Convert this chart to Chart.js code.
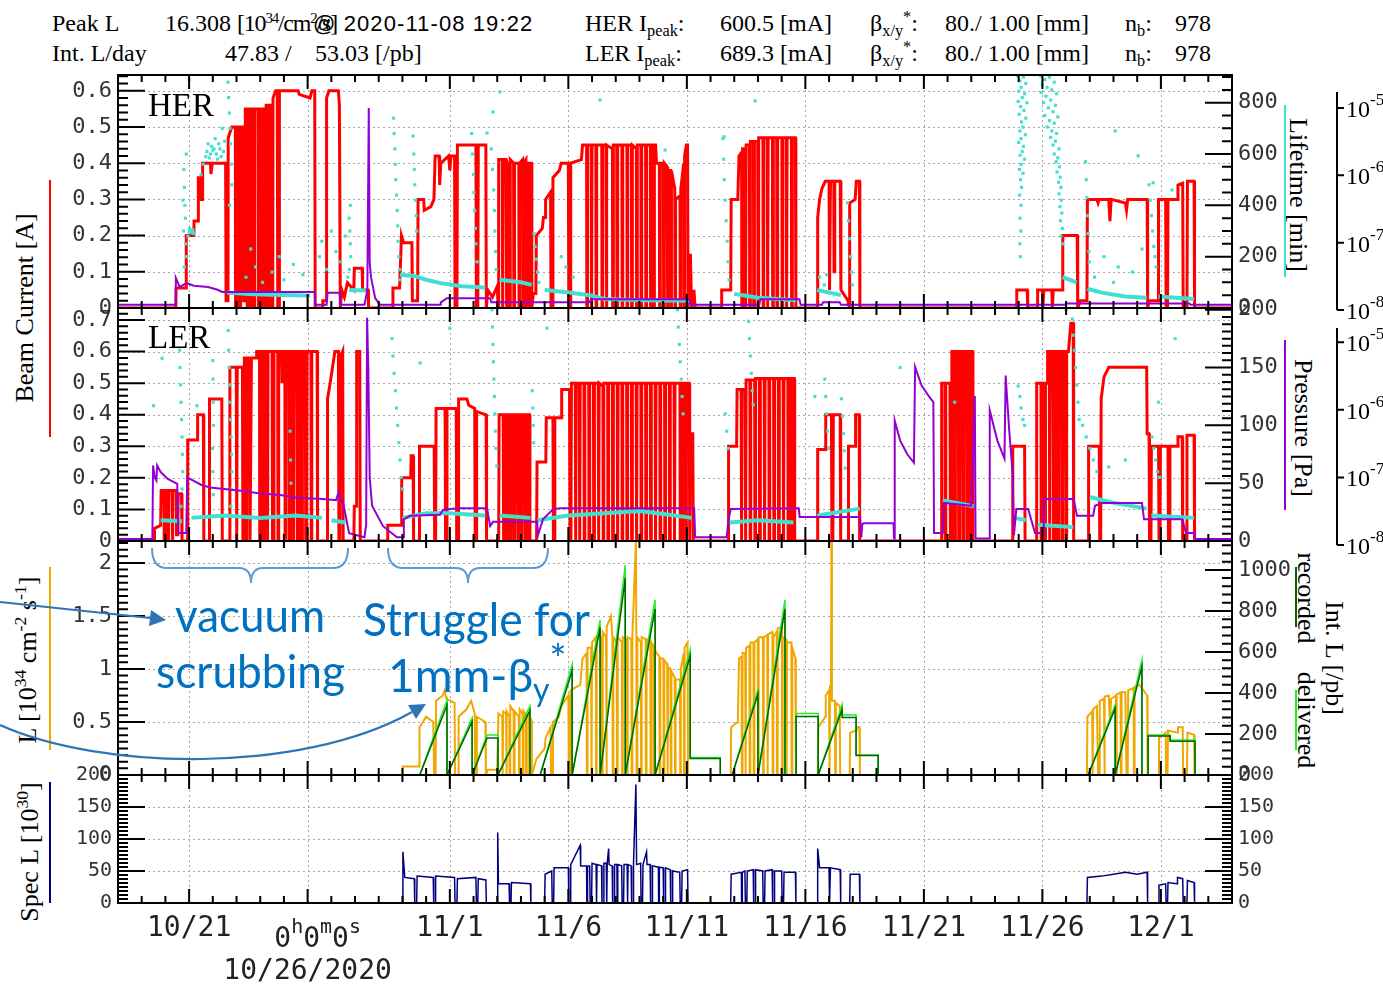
<!DOCTYPE html>
<html><head><meta charset="utf-8">
<script src="https://cdn.jsdelivr.net/npm/chart.js@4/dist/chart.umd.min.js"></script>
<style>
html,body{margin:0;padding:0;background:#fff;}
#wrap{position:relative;width:1383px;height:987px;overflow:hidden;background:#fff;}
canvas{position:absolute;left:0;}
.t{position:absolute;font-family:'Liberation Serif','DejaVu Serif',serif;font-size:24px;line-height:1;white-space:nowrap;color:#000;}
.sup{font-size:0.68em;position:relative;top:-0.55em;}
.sub{font-size:0.68em;position:relative;top:0.3em;}
.rot{position:absolute;font-family:'Liberation Serif',serif;font-size:26px;line-height:1;white-space:nowrap;color:#000;}
.bar{position:absolute;width:2px;}
</style></head><body><div id="wrap">
<div class="t" style="left:52px;top:11px">Peak L</div>
<div class="t" style="left:165px;top:11px">16.308 <span style="letter-spacing:-1.2px">[10<span class="sup" style="font-size:0.62em">34</span>/cm<span class="sup" style="font-size:0.62em">2</span>/s]</span></div>
<div class="t" style="left:313px;top:13px;font-family:'Liberation Sans',sans-serif;font-size:22px;letter-spacing:1.1px">@ 2020-11-08 19:22</div>
<div class="t" style="left:585px;top:11px">HER I<span class="sub">peak</span>:</div>
<div class="t" style="left:720px;top:11px">600.5 [mA]</div>
<div class="t" style="left:870px;top:11px">β<span class="sub">x/y</span><span class="sup">*</span>:</div>
<div class="t" style="left:945px;top:11px">80./&nbsp;1.00 [mm]</div>
<div class="t" style="left:1125px;top:11px">n<span class="sub">b</span>:</div>
<div class="t" style="left:1175px;top:11px">978</div>
<div class="t" style="left:52px;top:41px">Int. L/day</div>
<div class="t" style="left:225px;top:41px">47.83 /</div>
<div class="t" style="left:315px;top:41px">53.03 [/pb]</div>
<div class="t" style="left:585px;top:41px">LER I<span class="sub">peak</span>:</div>
<div class="t" style="left:720px;top:41px">689.3 [mA]</div>
<div class="t" style="left:870px;top:41px">β<span class="sub">x/y</span><span class="sup">*</span>:</div>
<div class="t" style="left:945px;top:41px">80./&nbsp;1.00 [mm]</div>
<div class="t" style="left:1125px;top:41px">n<span class="sub">b</span>:</div>
<div class="t" style="left:1175px;top:41px">978</div>

<div class="rot" style="left:25px;top:308px;transform:translate(-50%,-50%) rotate(-90deg)">Beam Current [A]</div>
<div class="rot" style="left:28px;top:660px;transform:translate(-50%,-50%) rotate(-90deg)">L [10<span class="sup">34</span> cm<span class="sup">-2</span> s<span class="sup">-1</span>]</div>
<div class="rot" style="left:30px;top:852px;transform:translate(-50%,-50%) rotate(-90deg)">Spec L [10<span class="sup">30</span>]</div>
<div class="rot" style="left:1298px;top:195px;transform:translate(-50%,-50%) rotate(90deg)">Lifetime [min]</div>
<div class="rot" style="left:1303px;top:428px;transform:translate(-50%,-50%) rotate(90deg)">Pressure [Pa]</div>
<div class="rot" style="left:1334px;top:658px;transform:translate(-50%,-50%) rotate(90deg)">Int. L [/pb]</div>
<div class="rot" style="left:1306px;top:598px;transform:translate(-50%,-50%) rotate(90deg)">recorded</div>
<div class="rot" style="left:1306px;top:720px;transform:translate(-50%,-50%) rotate(90deg)">delivered</div>
<div class="bar" style="left:49px;top:180px;height:257px;background:#FF0000"></div>
<div class="bar" style="left:49px;top:567px;height:183px;background:#F0A800"></div>
<div class="bar" style="left:49px;top:782px;height:121px;background:#000080"></div>
<div class="bar" style="left:1284px;top:105px;height:172px;background:#40E0D0"></div>
<div class="bar" style="left:1284px;top:340px;height:170px;background:#9400D3"></div>
<div class="bar" style="left:1295px;top:567px;height:60px;background:#006400"></div>
<div class="bar" style="left:1295px;top:690px;height:60px;background:#22EE22"></div>
</div>
<script>
// ---------- axes / ticks ----------
const majorDays = [-5, 0, 6, 11, 16, 21, 26, 31, 36];   // days relative to 10/26 0:00
const dayLabels = ['10/21', '0h0m0s', '11/1', '11/6', '11/11', '11/16', '11/21', '11/26', '12/1'];
const dateLine2 = '10/26/2020';
const herTicks = [0, 0.1, 0.2, 0.3, 0.4, 0.5, 0.6];
const lifeTicks = [0, 200, 400, 600, 800];
const lerTicks = [0, 0.1, 0.2, 0.3, 0.4, 0.5, 0.6, 0.7];
const lerLifeTicks = [0, 50, 100, 150, 200];
const lumTicks = [0, 0.5, 1, 1.5, 2];
const intTicks = [0, 200, 400, 600, 800, 1000];
const specTicks = [0, 50, 100, 150, 200];
const vacDecades = [-8, -7, -6, -5];

// ---------- data: [day, value] ----------
const herCurrent = [[-8,0],[-5.56,0],[-5.55,0.055],[-5.13,0.055],[-5.12,0.2],[-4.8,0.2],[-4.79,0.24],[-4.62,0.24],[-4.61,0.36],[-4.52,0.36],[-4.5,0.3],[-4.44,0.3],[-4.43,0.4],[-4.1,0.4],[-4.08,0.37],[-4.02,0.4],[-3.46,0.4],[-3.44,0.02],[-3.36,0.02],[-3.35,0.47],[-3.2,0.5],[-3.05,0.5],[-3.04,0],[-3.02,0],[-3.01,0.5],[-2.9,0.5],[-2.88,0],[-2.84,0],[-2.83,0.5],[-2.72,0.5],[-2.7,0.02],[-2.64,0.02],
[-2.63,0.55],[-2.56,0.55],[-2.55,0],[-2.53,0],[-2.52,0.55],[-2.45,0.55],[-2.43,0],[-2.37,0],[-2.36,0.55],[-2.28,0.55],[-2.27,0],[-2.25,0],[-2.24,0.55],[-2.1,0.55],[-2.08,0],[-2.02,0],[-2.01,0.55],[-1.93,0.55],[-1.92,0],[-1.9,0],[-1.89,0.55],[-1.84,0.55],[-1.82,0],[-1.76,0],[-1.75,0.56],[-1.66,0.56],[-1.65,0],[-1.63,0],[-1.62,0.56],[-1.55,0.56],[-1.53,0],[-1.47,0],[-1.46,0.58],[-1.35,0.6],[-1.28,0.6],[-1.26,0],[-1.2,0],[-1.19,0.6],
[-0.4,0.6],[-0.35,0.59],[0.1,0.58],[0.18,0.6],[0.3,0.6],[0.32,0],[0.62,0],[0.64,0.02],[0.78,0.02],[0.8,0.58],[0.9,0.6],[1.3,0.6],[1.34,0.56],[1.38,0],[1.44,0.05],[1.55,0.03],[1.68,0.07],[1.95,0.05],[1.97,0.11],[2.3,0.11],[2.32,0.05],[2.55,0.05],[2.57,0],[3.59,0],[3.6,0.055],[3.88,0.055],[3.96,0.2],[4.05,0.18],[4.4,0.18],[4.42,0.02],[4.64,0.02],[4.66,0.3],[4.9,0.3],[4.92,0.27],[5.2,0.28],[5.33,0.3],[5.38,0.42],[5.55,0.42],[5.57,0.34],[5.62,0.4],[5.95,0.42],[6,0.38],[6.05,0.42],[6.2,0.42],[6.22,0],[6.3,0],[6.32,0.45],[7.1,0.45],[7.12,0],[7.18,0],[7.2,0.45],[7.52,0.45],[7.54,0],[7.6,0.05],[7.8,0.03],[8,0.06],[8.04,0],
[8.06,0.41],[8.21,0.41],[8.22,0],[8.24,0],[8.25,0.41],[8.37,0.41],[8.38,0],[8.4,0],[8.41,0.4],[8.51,0.4],[8.52,0],[8.54,0],[8.55,0.41],[8.69,0.4],[8.7,0],[8.72,0],[8.73,0.4],[8.91,0.4],[8.92,0],[8.94,0],[8.95,0.4],[9.07,0.41],[9.08,0],[9.1,0],[9.11,0.4],[9.21,0.41],[9.22,0],[9.24,0],[9.25,0.4],[9.34,0.4],[9.35,0],[9.37,0],[9.38,0.4],[9.44,0.4],[9.46,0],
[9.52,0.04],[9.63,0.04],[9.65,0.2],[9.9,0.22],[9.95,0.25],[10.02,0.25],[10.04,0.3],[10.25,0.32],[10.27,0],[10.33,0],[10.35,0.36],[10.62,0.38],[10.7,0.4],[11,0.4],[11.02,0],[11.08,0],[11.1,0.4],[11.55,0.41],[11.6,0.45],
[11.77,0.45],[11.78,0],[11.8,0],[11.81,0.45],[11.96,0.45],[11.97,0],[11.99,0],[12.0,0.45],[12.16,0.45],[12.17,0],[12.19,0],[12.2,0.45],[12.41,0.45],[12.42,0],[12.44,0],[12.45,0.45],[12.59,0.45],[12.6,0],[12.62,0],[12.63,0.45],[12.86,0.44],[12.87,0],[12.89,0],[12.9,0.45],[13.04,0.45],[13.05,0],[13.07,0],[13.08,0.45],[13.26,0.45],[13.27,0],[13.29,0],[13.3,0.45],[13.47,0.45],[13.48,0],[13.5,0],[13.51,0.45],[13.66,0.45],[13.67,0],[13.69,0],[13.7,0.45],[13.87,0.44],[13.88,0],[13.9,0],[13.91,0.45],[14.06,0.45],[14.07,0],[14.09,0],[14.1,0.45],[14.26,0.45],[14.27,0],[14.29,0],[14.3,0.45],[14.46,0.45],[14.47,0],[14.49,0],[14.5,0.45],[14.59,0.45],[14.6,0],[14.62,0],[14.63,0.45],[14.68,0.45],
[14.72,0.4],[14.84,0.4],[14.85,0],[14.87,0],[14.88,0.4],[15.01,0.4],[15.02,0],[15.04,0],[15.05,0.4],[15.17,0.39],[15.18,0],[15.2,0],[15.21,0.38],[15.31,0.38],[15.32,0],[15.34,0],[15.35,0.38],[15.49,0.33],[15.5,0],[15.52,0],[15.53,0.3],[15.71,0.31],[15.72,0],[15.74,0],[15.75,0.33],[15.87,0.4],[15.88,0],[15.9,0],[15.91,0.42],[15.98,0.45],[16.03,0.45],[16.05,0],
[16.15,0.15],[16.2,0],[16.3,0.05],[16.35,0],[17.45,0],[17.47,0.05],[17.85,0.05],[17.87,0.3],[18.15,0.3],
[18.2,0.42],[18.31,0.43],[18.32,0],[18.34,0],[18.35,0.44],[18.46,0.44],[18.47,0],[18.49,0],[18.5,0.45],[18.64,0.45],[18.65,0],[18.67,0],[18.68,0.46],[18.81,0.46],[18.82,0],[18.84,0],[18.85,0.46],[18.99,0.46],[19.0,0],[19.02,0],[19.03,0.47],[19.21,0.47],[19.22,0],[19.24,0],[19.25,0.47],[19.39,0.47],[19.4,0],[19.42,0],[19.43,0.47],[19.61,0.47],[19.62,0],[19.64,0],[19.65,0.47],[19.79,0.47],[19.8,0],[19.82,0],[19.83,0.47],[20.01,0.47],[20.02,0],[20.04,0],[20.05,0.47],[20.19,0.47],[20.2,0],[20.22,0],[20.23,0.47],[20.41,0.47],[20.42,0],[20.44,0],[20.45,0.47],[20.58,0.47],[20.6,0],
[21.5,0],[21.52,0.25],[21.6,0.3],[21.7,0.33],[21.84,0.35],[22,0.35],[22.02,0.05],[22.06,0.35],[22.2,0.35],[22.21,0.1],[22.24,0.35],[22.47,0.35],[22.5,0.05],[22.8,0.02],[22.85,0],[22.87,0.29],[23.1,0.3],[23.15,0.35],[23.28,0.35],[23.3,0],[29.9,0],[29.92,0.05],[30.36,0.05],[30.38,0],[30.78,0],[30.8,0.05],[31,0.05],[31.02,0],[31.06,0.05],[31.4,0.05],[31.42,0],[31.46,0.05],[31.84,0.05],[31.86,0.2],[32.47,0.2],[32.49,0],[32.6,0.02],[32.88,0.02],[32.9,0.3],[33.3,0.3],[33.35,0.29],[33.4,0.3],[33.8,0.3],[33.85,0.24],[33.9,0.3],[34.5,0.29],[34.55,0.27],[34.6,0.3],[35.42,0.3],[35.44,0],[35.5,0.02],[35.88,0.02],[35.9,0.3],[36.2,0.3],[36.22,0],[36.28,0],[36.3,0.3],[36.68,0.3],[36.72,0.34],[36.92,0.345],[36.94,0],[37.1,0],[37.12,0.35],[37.4,0.35],[37.42,0],[39,0]];

const herVacuum = [[-8,1.2e-8],[-5.58,1.2e-8],[-5.56,3.0e-8],[-5.4,2.2e-8],[-5.1,2.5e-8],[-4.8,2.3e-8],[-4.2,2.2e-8],[-3.8,2.0e-8],[-3.6,1.85e-8],[-2.0,1.85e-8],[0.3,1.85e-8],[0.32,1.2e-8],[0.8,1.2e-8],[0.84,1.8e-8],[1.35,1.8e-8],[1.4,1.2e-8],[2.4,1.2e-8],[2.52,2.0e-8],[2.58,1.0e-5],[2.62,5.0e-8],[2.68,3.0e-8],[2.85,1.5e-8],[3.05,1.2e-8],[5.59,1.2e-8],[5.62,1.3e-8],[5.88,1.5e-8],[7.7,1.5e-8],[7.75,1.3e-8],[11.9,1.3e-8],[11.95,1.45e-8],[16.1,1.45e-8],[16.15,1.2e-8],[19.05,1.2e-8],[19.1,1.45e-8],[20.75,1.45e-8],[20.8,1.2e-8],[21.7,1.2e-8],[21.75,1.3e-8],[22.45,1.3e-8],[22.5,1.2e-8],[31.95,1.2e-8],[32.0,1.25e-8],[37.2,1.25e-8],[37.25,1.2e-8],[39,1.2e-8]];

const herLifeBand = [[-5.05,300],[-4.75,290],[-4.7,null],[-3.4,60],[-2.5,55],[-1.5,52],[-0.5,50],[0.1,48],[0.15,null],[1.75,70],[2.45,68],[2.5,null],[3.9,130],[4.5,125],[5.0,110],[5.6,97],[6.5,85],[7.5,80],[7.55,null],[8.1,110],[9.0,100],[9.45,90],[9.5,null],[10.0,70],[11.0,60],[11.9,50],[12.5,35],[14.0,30],[16.1,28],[16.15,null],[18.0,55],[19.0,40],[20.6,30],[20.65,null],[21.5,70],[22.5,50],[22.55,null],[31.85,120],[32.45,100],[32.5,null],[32.9,75],[33.5,60],[34.5,45],[35.4,40],[35.45,null],[35.9,45],[37.4,35]];

const herLifeDots = [[-5.22,540],[-5.2,470],[-5.18,400],[-5.16,350],[-5.24,300],[-5.14,250],[-5.1,200],[-5.2,160],[-5.12,600],[-5.26,420],[-5.0,890],[-5.05,280],[-4.98,310],[-4.92,295],[-4.85,305],[-4.5,520],[-4.4,560],[-4.3,590],[-4.25,610],[-4.2,640],[-4.15,585],[-4.1,600],[-4.05,630],[-4.0,615],[-3.95,620],[-3.9,660],[-3.85,600],[-3.8,580],[-3.75,640],[-3.7,620],[-3.65,590],[-3.6,700],[-3.55,610],[-3.5,650],[-3.36,880],[-3.33,820],[-3.3,760],[-3.28,700],[-3.25,640],[-3.22,560],[-3.2,480],[-3.3,400],[-2.6,120],[-2.2,160],[-1.9,100],[-1.5,140],[-1.0,110],[-0.6,170],[-0.2,130],[-2.4,230],[-1.2,200],[0.5,200],[0.6,260],[0.8,150],[1.0,300],[1.2,220],[1.4,180],[1.6,280],[1.75,350],[1.78,300],[1.8,250],[1.82,200],[1.76,150],[1.8,400],[1.7,120],[3.62,740],[3.65,680],[3.68,620],[3.7,560],[3.72,500],[3.75,440],[3.78,380],[3.8,320],[3.82,260],[3.85,200],[3.88,150],[3.9,110],[4.45,670],[4.48,600],[4.5,540],[4.52,480],[4.55,420],[4.58,360],[4.6,300],[6.92,680],[6.95,600],[7.0,520],[7.02,450],[7.05,380],[7.08,310],[7.1,250],[7.15,180],[7.75,620],[7.8,540],[7.85,460],[7.88,380],[7.9,300],[7.93,220],[7.96,150],[8.12,842],[7.57,682],[7.82,764],[12.34,811],[15.08,616],[17.57,667],[18.88,807],[34.07,690],[35.04,593],[35.67,488],[36.47,460],[9.55,290],[9.6,240],[9.65,190],[9.7,140],[9.75,100],[10.7,200],[10.9,160],[11.2,120],[17.52,660],[17.55,580],[17.58,500],[17.62,420],[17.66,340],[17.7,260],[17.74,180],[17.78,110],[21.6,120],[21.8,90],[21.9,130],[22.78,410],[22.82,340],[22.86,270],[22.9,200],[22.94,140],[22.98,90],
[29.95,905],[30.2,900],[30.05,885],[30.3,875],[30.1,860],[30.0,845],[30.25,835],[30.15,820],[29.98,805],[30.35,800],[30.08,785],[30.22,770],[30.02,755],[30.3,740],[30.12,725],[30.18,705],[30.05,690],[30.28,675],[30.1,660],[30.0,645],[30.2,630],[30.15,610],[30.06,595],[30.25,580],[30.1,560],[30.03,540],[30.18,525],[30.08,500],[30.12,470],[30.04,440],[30.1,400],[30.06,350],[30.09,300],[30.05,250],[30.07,200],
[30.92,905],[31.3,900],[31.1,890],[31.5,880],[31.0,870],[31.2,860],[31.4,850],[30.95,840],[31.6,835],[31.15,825],[31.35,810],[31.05,800],[31.55,790],[31.25,780],[31.45,765],[31.1,750],[31.65,745],[31.3,730],[31.5,720],[31.2,705],[31.4,690],[31.6,680],[31.35,665],[31.55,650],[31.45,635],[31.7,620],[31.5,600],[31.65,585],[31.58,570],[31.72,550],[31.62,530],[31.75,510],[31.68,490],[31.78,470],[31.7,445],[31.8,420],[31.74,395],[31.82,370],[31.76,340],[31.84,310],[31.78,280],[31.85,250],
[32.82,570],[32.85,500],[32.88,430],[32.9,360],[32.93,290],[32.96,220],[32.98,180],[35.5,480],[35.55,420],[35.6,360],[35.65,300],[35.7,240],[35.75,200],[35.8,160],[33.2,120],[33.6,200],[34.2,160],[34.8,140],[35.2,230],[34.0,100]];

const lerCurrent = [[-8,0],[-6.48,0],[-6.46,0.04],[-6.2,0.05],
[-6.18,0.16],[-6.06,0.16],[-6.05,0],[-6.03,0],[-6.02,0.16],[-5.95,0.16],[-5.93,0],[-5.88,0],[-5.86,0.16],[-5.72,0.16],[-5.71,0],[-5.69,0],[-5.68,0.16],[-5.55,0.16],[-5.53,0.02],[-5.48,0.02],[-5.46,0.15],[-5.32,0.15],[-5.3,0],
[-5.08,0],[-5.06,0.32],[-4.66,0.32],[-4.64,0.4],[-4.4,0.4],[-4.38,0],[-4.16,0],[-4.14,0.45],[-3.62,0.45],[-3.6,0],[-3.3,0],
[-3.28,0.55],[-3.01,0.55],[-3.0,0],[-2.98,0],[-2.97,0.55],[-2.75,0.55],[-2.73,0],[-2.69,0],[-2.67,0.58],[-2.59,0.58],[-2.58,0],[-2.56,0],[-2.55,0.58],[-2.45,0.58],[-2.43,0],[-2.39,0],[-2.37,0.58],[-2.17,0.58],[-2.15,0.6],[-2.03,0.6],[-2.02,0],[-2.0,0],[-1.99,0.6],[-1.9,0.6],[-1.88,0],[-1.84,0],[-1.82,0.6],[-1.71,0.6],[-1.7,0],[-1.68,0],[-1.67,0.6],[-1.5,0.6],[-1.48,0],[-1.44,0],[-1.42,0.6],[-1.26,0.6],[-1.25,0],[-1.23,0],[-1.22,0.6],[-1.1,0.6],[-1.08,0.5],[-1.02,0.6],[-0.96,0.6],[-0.95,0],[-0.93,0],[-0.92,0.6],[-0.8,0.6],[-0.78,0],[-0.74,0],[-0.72,0.6],[-0.61,0.6],[-0.6,0],[-0.58,0],[-0.57,0.6],[-0.45,0.6],[-0.43,0],[-0.39,0],[-0.37,0.6],[-0.26,0.6],[-0.25,0],[-0.23,0],[-0.22,0.6],[-0.1,0.6],[-0.08,0],[-0.04,0],[-0.02,0.6],[0.14,0.6],[0.15,0],[0.17,0],[0.18,0.6],[0.4,0.6],[0.42,0],
[0.82,0],[0.84,0.45],[0.95,0.5],[1.05,0.55],[1.15,0.6],[1.3,0.6],[1.32,0],[1.36,0],[1.38,0.58],[1.48,0.6],[1.5,0],[1.95,0],[1.97,0.11],[2.05,0.11],[2.07,0.6],[2.2,0.6],[2.22,0],[3.36,0],[3.38,0.05],[3.95,0.05],[3.97,0.2],[4.35,0.2],[4.37,0.27],[4.45,0.27],[4.47,0],[4.7,0],[4.72,0.3],[5.34,0.3],[5.36,0],[5.4,0],[5.42,0.42],[5.8,0.42],[5.82,0],[5.86,0],[5.88,0.42],[6.27,0.42],[6.29,0],[6.35,0],[6.37,0.45],[6.72,0.45],[6.8,0.43],[7.05,0.42],[7.07,0],[7.11,0],[7.13,0.41],[7.53,0.4],[7.55,0],[8.06,0],
[8.08,0.4],[8.25,0.4],[8.27,0],[8.29,0],[8.3,0.4],[8.41,0.4],[8.42,0],[8.44,0],[8.45,0.4],[8.55,0.4],[8.57,0],[8.59,0],[8.6,0.4],[8.71,0.4],[8.72,0],[8.74,0],[8.75,0.4],[8.85,0.4],[8.87,0],[8.89,0],[8.9,0.4],[9.01,0.4],[9.02,0],[9.04,0],[9.05,0.4],[9.15,0.4],[9.17,0],[9.19,0],[9.2,0.4],[9.29,0.4],[9.3,0],[9.32,0],[9.33,0.4],[9.36,0.4],[9.38,0],
[9.66,0],[9.68,0.25],[10.05,0.25],[10.07,0.39],[10.35,0.39],[10.37,0],[10.41,0],[10.43,0.39],[10.7,0.39],[10.72,0.48],[11.05,0.48],[11.07,0],[11.11,0],
[11.13,0.5],[11.29,0.5],[11.3,0],[11.32,0],[11.33,0.5],[11.46,0.5],[11.47,0],[11.49,0],[11.5,0.5],[11.66,0.5],[11.67,0],[11.69,0],[11.7,0.5],[11.86,0.5],[11.87,0],[11.89,0],[11.9,0.5],[12.06,0.5],[12.07,0],[12.09,0],[12.1,0.5],[12.26,0.5],[12.27,0],[12.29,0],[12.3,0.5],[12.46,0.49],[12.47,0],[12.49,0],[12.5,0.5],[12.66,0.5],[12.67,0],[12.69,0],[12.7,0.5],[12.86,0.5],[12.87,0],[12.89,0],[12.9,0.5],[13.06,0.5],[13.07,0],[13.09,0],[13.1,0.5],[13.26,0.5],[13.27,0],[13.29,0],[13.3,0.5],[13.46,0.5],[13.47,0],[13.49,0],[13.5,0.5],[13.66,0.5],[13.67,0],[13.69,0],[13.7,0.5],[13.86,0.5],[13.87,0],[13.89,0],[13.9,0.5],[14.06,0.5],[14.07,0],[14.09,0],[14.1,0.5],[14.26,0.5],[14.27,0],[14.29,0],[14.3,0.5],[14.46,0.5],[14.47,0],[14.49,0],[14.5,0.5],[14.66,0.5],[14.67,0],[14.69,0],[14.7,0.5],[14.86,0.5],[14.87,0],[14.89,0],[14.9,0.5],[15.06,0.5],[15.07,0],[15.09,0],[15.1,0.5],[15.26,0.5],[15.27,0],[15.29,0],[15.3,0.5],[15.46,0.5],[15.47,0],[15.49,0],[15.5,0.5],[15.71,0.5],[15.72,0],[15.8,0],[15.82,0.5],[15.94,0.5],[15.95,0],[15.97,0],[15.98,0.5],[16.1,0.5],[16.12,0],[16.15,0.34],[16.25,0.34],[16.27,0],[17.74,0],[17.76,0.3],[18.1,0.3],
[18.12,0.48],[18.29,0.48],[18.3,0],[18.32,0],[18.33,0.48],[18.46,0.48],[18.47,0],[18.49,0],[18.5,0.51],[18.66,0.51],[18.67,0],[18.69,0],[18.7,0.51],[18.86,0.51],[18.87,0],[18.89,0],[18.9,0.515],[19.06,0.515],[19.07,0],[19.09,0],[19.1,0.515],[19.26,0.515],[19.27,0],[19.29,0],[19.3,0.515],[19.46,0.515],[19.47,0],[19.49,0],[19.5,0.515],[19.66,0.515],[19.67,0],[19.69,0],[19.7,0.515],[19.86,0.515],[19.87,0],[19.89,0],[19.9,0.515],[20.06,0.515],[20.07,0],[20.09,0],[20.1,0.515],[20.26,0.515],[20.27,0],[20.29,0],[20.3,0.515],[20.41,0.515],[20.42,0],[20.44,0],[20.45,0.515],[20.53,0.515],[20.55,0],
[21.5,0],[21.52,0.29],[21.84,0.29],[21.86,0.4],[22.1,0.4],[22.12,0],[22.16,0],[22.18,0.4],[22.47,0.4],[22.49,0],[22.8,0],[22.82,0.3],[23.1,0.3],[23.12,0.4],[23.27,0.4],[23.29,0],[26.73,0],
[26.75,0.5],[26.89,0.5],[26.9,0],[26.92,0],[26.93,0.5],[27.1,0.5],[27.12,0],[27.16,0],[27.18,0.6],[27.29,0.6],[27.3,0],[27.32,0],[27.33,0.6],[27.45,0.6],[27.47,0],[27.51,0],[27.53,0.6],[27.64,0.6],[27.65,0],[27.67,0],[27.68,0.6],[27.8,0.6],[27.82,0],[27.86,0],[27.88,0.6],[27.94,0.6],[27.95,0],[27.97,0],[27.98,0.6],[28.05,0.6],[28.07,0],
[29.73,0],[29.75,0.3],[30.25,0.3],[30.27,0],[30.74,0],
[30.76,0.5],[30.94,0.5],[30.95,0],[30.97,0],[30.98,0.5],[31.09,0.5],[31.1,0],[31.12,0],[31.13,0.5],[31.2,0.5],[31.22,0.6],[31.29,0.6],[31.3,0],[31.32,0],[31.33,0.6],[31.45,0.6],[31.47,0],[31.51,0],[31.53,0.6],[31.64,0.6],[31.65,0],[31.67,0],[31.68,0.6],[31.8,0.6],[31.82,0],[31.86,0],[31.88,0.6],[31.99,0.6],[32.0,0],[32.02,0],[32.03,0.6],[32.1,0.6],[32.2,0.69],[32.3,0.69],[32.32,0],
[32.93,0],[32.95,0.3],[33.4,0.3],[33.42,0],[33.46,0],[33.48,0.45],[33.6,0.52],[33.8,0.55],[35.4,0.55],[35.42,0.34],[35.5,0.34],[35.52,0],[35.58,0],[35.6,0.3],[35.9,0.3],[35.92,0],[35.96,0],[35.98,0.3],[36.3,0.3],[36.32,0],[36.36,0],[36.38,0.3],[36.7,0.3],[36.72,0.33],[36.9,0.33],[36.92,0],[37.08,0],[37.1,0.335],[37.4,0.335],[37.42,0],[39,0]];

const lerVacuum = [[-8,1.23e-8],[-6.55,1.23e-8],[-6.52,1.5e-7],[-6.45,1.0e-7],[-6.38,9.0e-8],[-6.35,1.5e-7],[-6.2,1.2e-7],[-5.9,9.5e-8],[-5.5,8.0e-8],[-5.45,1.5e-8],[-5.12,1.5e-8],[-5.08,1.0e-7],[-4.5,7.8e-8],[-4.12,7.1e-8],[-2.72,6.3e-8],[-2.0,5.8e-8],[-1.16,5.5e-8],[-0.45,5.0e-8],[0.65,4.8e-8],[1.2,4.6e-8],[1.3,6.0e-8],[1.4,4.6e-8],[1.5,4.2e-8],[1.75,1.5e-8],[2.4,1.3e-8],[2.47,2.0e-8],[2.51,2.3e-5],[2.56,4.0e-6],[2.62,1.0e-7],[2.72,3.8e-8],[3.18,1.9e-8],[3.77,1.3e-8],[4.03,1.3e-8],[4.06,2.4e-8],[4.32,2.7e-8],[5.58,2.8e-8],[5.71,3.3e-8],[6.3,3.5e-8],[7.57,3.5e-8],[7.7,1.9e-8],[7.82,2.2e-8],[9.68,2.2e-8],[9.72,1.4e-8],[9.93,2.4e-8],[10.36,3.4e-8],[10.66,3.5e-8],[16.31,3.5e-8],[16.35,1.3e-8],[17.68,1.3e-8],[17.76,2.4e-8],[17.85,3.4e-8],[20.72,3.5e-8],[20.76,2.6e-8],[23.31,2.6e-8],[23.36,1.3e-8],[23.4,2.0e-8],[23.45,2.1e-8],[24.72,2.1e-8],[24.74,1.25e-8],[24.76,1.25e-8],[24.78,6.9e-7],[25.0,3.5e-7],[25.3,2.2e-7],[25.58,1.65e-7],[25.63,4.3e-6],[25.9,2.3e-6],[26.2,1.6e-6],[26.4,1.3e-6],[26.43,1.5e-8],[26.8,1.5e-8],[26.85,4.2e-8],[28.0,3.8e-8],[28.15,1.6e-6],[28.18,1.25e-8],[28.76,1.25e-8],[28.78,9.8e-7],[29.1,3.5e-7],[29.4,1.9e-7],[29.45,3.2e-6],[29.6,5.0e-7],[29.75,1.1e-7],[29.8,1.4e-8],[29.9,3.4e-8],[30.4,3.4e-8],[30.69,1.5e-8],[31.03,1.5e-8],[31.06,4.8e-8],[32.32,4.8e-8],[32.46,2.7e-8],[33.14,2.7e-8],[33.22,3.8e-8],[33.5,4.2e-8],[35.2,4.2e-8],[35.29,2.4e-8],[36.9,2.4e-8],[37.06,1.5e-8],[37.4,1.5e-8],[37.45,1.23e-8],[39,1.23e-8]];

const lerLifeBand = [[-6.2,18],[-5.3,17],[-5.25,null],[-4.9,20],[-3.5,22],[-2.0,20],[-0.5,22],[0.6,20],[0.65,null],[1.0,18],[1.6,16],[1.65,null],[4.0,20],[5.0,24],[6.0,24],[7.5,22],[7.55,null],[8.1,22],[9.4,20],[9.45,null],[9.7,18],[11.0,22],[12.5,24],[14.0,26],[15.5,22],[16.2,20],[16.25,null],[17.8,16],[19.0,18],[20.5,16],[20.55,null],[21.5,22],[23.3,28],[23.35,null],[26.8,35],[28.1,30],[28.15,null],[29.8,20],[30.3,18],[30.35,null],[30.8,14],[32.3,12],[32.35,null],[33.0,38],[34.0,33],[35.4,28],[35.45,null],[35.6,22],[37.4,20]];

const lerLifeDots = [[-5.4,165],[-5.38,150],[-5.36,135],[-5.34,120],[-5.32,105],[-5.3,90],[-5.28,75],[-5.27,60],[-5.3,45],[-5.35,30],[-4.0,156],[-3.99,140],[-3.98,120],[-3.97,100],[-4.01,80],[-4.0,60],[-3.98,40],[-3.35,182],[-3.33,165],[-3.31,150],[-3.29,135],[-3.27,120],[-3.25,105],[-3.23,90],[-3.21,75],[-3.2,60],[-3.22,45],[-3.24,30],[-0.74,95],[-0.72,70],[-0.7,50],[-6.5,117],[-6.14,158],[-4.67,117],[4.75,154],[6.0,184],[10.1,184],[3.56,175],[3.6,160],[3.65,145],[3.7,130],[3.75,115],[3.8,100],[3.85,85],[3.9,70],[3.95,55],[4.0,45],[7.78,200],[7.8,185],[7.82,170],[7.84,155],[7.86,140],[7.88,125],[7.9,110],[7.92,95],[7.95,80],[7.98,65],[9.48,130],[9.5,115],[9.52,100],[9.54,85],[15.6,200],[15.64,185],[15.68,170],[15.72,155],[15.76,140],[15.8,125],[15.84,110],[18.6,190],[18.64,175],[18.68,160],[18.72,145],[18.76,130],[18.8,118],[17.62,110],[17.68,95],[17.74,80],[21.82,140],[21.86,125],[21.9,110],[21.94,95],[21.98,80],[22.52,123],[22.56,108],[22.6,93],[22.64,78],[22.68,63],[29.98,134],[30.05,125],[30.1,115],[30.18,105],[30.25,100],[32.26,192],[32.3,178],[32.35,165],[32.4,150],[32.45,135],[32.5,120],[32.55,105],[32.7,100],[32.85,90],[33.0,80],[33.15,70],[33.3,60],[35.62,90],[35.7,80],[35.78,70],[35.86,60],[35.94,55],[21.4,125],[25.0,150],[27.3,120],[33.8,64],[34.5,70],[36.6,175],[35.9,120],[32.0,200]];

const lumInst = [[-8,0],[4.0,0],[4.02,0.08],[4.7,0.08],[4.72,0.45],[5.0,0.55],[5.3,0.5],[5.34,0],[5.4,0],[5.42,0.7],[5.7,0.75],[5.78,0.8],[5.85,0.72],[6.2,0.68],[6.22,0],[6.35,0],[6.37,0.55],[6.7,0.62],[6.9,0.7],[7.05,0.58],[7.07,0],[7.12,0],[7.14,0.55],[7.5,0.5],[7.52,0],[7.6,0.05],[8.0,0.05],
[8.05,0.58],[8.21,0.55],[8.22,0],[8.24,0],[8.25,0.6],[8.37,0.58],[8.38,0],[8.4,0],[8.41,0.6],[8.51,0.55],[8.52,0],[8.54,0],[8.55,0.65],[8.69,0.6],[8.7,0],[8.72,0],[8.73,0.6],[8.91,0.55],[8.92,0],[8.94,0],[8.95,0.62],[9.07,0.58],[9.08,0],[9.1,0],[9.11,0.6],[9.21,0.55],[9.22,0],[9.24,0],[9.25,0.58],[9.34,0.55],[9.35,0],[9.37,0],[9.38,0.55],[9.44,0.52],[9.46,0],
[9.65,0.15],[10.0,0.25],[10.04,0.35],[10.25,0.45],[10.27,0],[10.33,0],[10.35,0.5],[10.6,0.55],[10.7,0.65],[11.0,0.75],[11.02,0],[11.08,0],[11.1,0.8],[11.5,0.85],
[11.6,1.1],[11.77,1.15],[11.78,0],[11.8,0],[11.81,1.2],[11.96,1.2],[11.97,0],[11.99,0],[12.0,1.25],[12.16,1.3],[12.17,0],[12.19,0],[12.2,1.3],[12.41,1.3],[12.42,0],[12.44,0],[12.45,1.35],[12.59,1.3],[12.6,0],[12.62,0],[12.63,1.4],[12.8,1.5],[12.86,1.3],[12.87,0],[12.89,0],[12.9,1.3],[13.04,1.25],[13.05,0],[13.07,0],[13.08,1.3],[13.26,1.25],[13.27,0],[13.29,0],[13.3,1.3],[13.47,1.28],[13.48,0],[13.5,0],[13.51,1.3],[13.66,1.28],[13.67,0],[13.69,0],[13.7,1.3],[13.85,2.2],[13.87,1.28],[13.88,0],[13.9,0],[13.91,1.3],[14.06,1.25],[14.07,0],[14.09,0],[14.1,1.3],[14.26,1.28],[14.27,0],[14.29,0],[14.3,1.28],[14.46,1.25],[14.47,0],[14.49,0],[14.5,1.25],[14.59,1.2],[14.6,0],[14.62,0],[14.63,1.2],[14.72,1.15],
[14.84,1.12],[14.85,0],[14.87,0],[14.88,1.1],[15.01,1.1],[15.02,0],[15.04,0],[15.05,1.08],[15.17,1.05],[15.18,0],[15.2,0],[15.21,1.02],[15.31,1.0],[15.32,0],[15.34,0],[15.35,0.98],[15.49,0.92],[15.5,0],[15.52,0],[15.53,0.9],[15.71,0.9],[15.72,0],[15.74,0],[15.75,1.0],[15.87,1.15],[15.88,0],[15.9,0],[15.91,1.2],[16.03,1.25],[16.05,0],
[17.85,0],[17.87,0.45],[18.15,0.5],
[18.2,1.1],[18.31,1.12],[18.32,0],[18.34,0],[18.35,1.15],[18.46,1.15],[18.47,0],[18.49,0],[18.5,1.2],[18.64,1.22],[18.65,0],[18.67,0],[18.68,1.25],[18.81,1.25],[18.82,0],[18.84,0],[18.85,1.25],[18.99,1.28],[19.0,0],[19.02,0],[19.03,1.3],[19.21,1.3],[19.22,0],[19.24,0],[19.25,1.3],[19.39,1.32],[19.4,0],[19.42,0],[19.43,1.33],[19.61,1.35],[19.62,0],[19.64,0],[19.65,1.3],[19.79,1.35],[19.8,0],[19.82,0],[19.83,1.38],[20.01,1.4],[20.02,0],[20.04,0],[20.05,1.3],[20.19,1.28],[20.2,0],[20.22,0],[20.23,1.25],[20.41,1.25],[20.42,0],[20.44,0],[20.45,1.2],[20.58,1.1],[20.6,0],
[21.52,0],[21.55,0.45],[21.84,0.55],[21.86,0.75],[22.0,0.8],[22.01,0],[22.03,0],[22.04,0.85],[22.08,0.7],[22.1,2.2],[22.12,0.7],[22.25,0.7],[22.26,0],[22.28,0],[22.29,0.68],[22.45,0.65],[22.47,0],[22.87,0],[22.89,0.4],[23.15,0.42],[23.17,0.45],[23.28,0.45],[23.3,0],[32.88,0],[32.9,0.55],[33.1,0.6],[33.11,0],[33.13,0],[33.14,0.62],[33.3,0.65],[33.35,0],[33.4,0],[33.42,0.7],[33.6,0.72],[33.61,0],[33.63,0],[33.64,0.74],[33.8,0.75],[33.85,0.5],[33.9,0.72],[34.1,0.75],[34.11,0],[34.13,0],[34.14,0.76],[34.3,0.78],[34.31,0],[34.33,0],[34.34,0.78],[34.5,0.78],[34.55,0],[34.6,0],[34.62,0.8],[34.85,0.82],[34.86,0],[34.88,0],[34.89,0.83],[35.1,0.85],[35.42,0.75],[35.44,0],[35.9,0],[35.92,0.35],[36.2,0.4],[36.22,0],[36.28,0],[36.3,0.42],[36.68,0.4],[36.72,0.45],[36.92,0.45],[36.94,0],[37.1,0],[37.12,0.4],[37.4,0.38],[37.42,0],[39,0]];

const intRecorded = [[4.73,0],[5.88,340],[5.88,0],[6.94,260],[6.94,0],[7.57,180],[8.03,180],[8.03,0],[9.38,315],[9.38,0],[9.81,0],[11.16,510],[11.16,0],[12.34,720],[12.34,0],[13.4,960],[13.4,0],[14.66,810],[14.66,0],[16.14,580],[16.14,80],[17.41,80],[17.41,0],[17.91,0],[19.0,395],[19.0,0],[20.14,810],[20.14,0],[20.61,0],[20.61,285],[21.54,285],[21.54,0],[22.55,320],[22.55,280],[23.14,280],[23.14,95],[24.07,95],[24.07,0],[32.93,0],[34.07,325],[34.07,0],[35.2,530],[35.2,0],[35.46,0],[35.46,190],[36.39,190],[36.39,165],[37.44,165],[37.44,0]];
const intDelivered = [[4.73,0],[5.88,366],[5.88,0],[6.94,278],[6.94,0],[7.57,195],[8.03,195],[8.03,0],[9.38,336],[9.38,0],[9.81,0],[11.16,537],[11.16,0],[12.34,756],[12.34,0],[13.4,1024],[13.4,0],[14.66,854],[14.66,0],[16.14,610],[16.14,85],[17.41,85],[17.41,0],[17.91,0],[19.0,415],[19.0,0],[20.14,854],[20.14,0],[20.61,0],[20.61,300],[21.54,300],[21.54,0],[22.55,341],[22.55,293],[23.14,293],[23.14,98],[24.07,98],[24.07,0],[32.93,0],[34.07,341],[34.07,0],[35.2,561],[35.2,0],[35.46,0],[35.46,195],[36.39,195],[36.39,171],[37.44,171],[37.44,0]];

const specLumi = [[-8,0],[4.0,0],[4.02,80],[4.1,40],[4.5,38],[4.52,0],[4.6,0],[4.62,42],[5.3,40],[5.32,0],[5.38,0],[5.4,42],[6.2,40],[6.22,0],[6.3,0],[6.32,38],[7.1,40],[7.12,0],[7.18,0],[7.2,38],[7.52,36],[7.54,0],[8.0,0],[8.02,110],[8.05,30],[8.5,30],[8.52,0],[8.58,0],[8.6,32],[9.4,30],[9.42,0],[10.0,0],[10.02,45],[10.3,50],[10.32,0],[10.38,0],[10.4,55],[11.0,55],[11.02,0],[11.08,0],[11.1,60],[11.5,90],[11.52,58],[11.77,58],[11.78,0],[11.8,0],[11.81,58],[11.9,58],[11.92,0],[11.98,0],[12.0,62],[12.17,60],[12.18,0],[12.2,0],[12.21,60],[12.4,58],[12.42,0],[12.48,0],[12.5,62],[12.6,62],[12.61,0],[12.63,0],[12.64,62],[12.7,85],[12.72,60],[12.85,58],[12.87,0],[12.93,0],[12.95,60],[13.05,60],[13.06,0],[13.08,0],[13.09,60],[13.25,58],[13.27,0],[13.33,0],[13.35,60],[13.48,60],[13.49,0],[13.51,0],[13.52,60],[13.65,58],[13.67,0],[13.73,0],[13.75,62],[13.85,185],[13.88,60],[14.05,62],[14.07,0],[14.13,0],[14.15,60],[14.3,80],[14.32,60],[14.45,60],[14.47,0],[14.53,0],[14.55,58],[14.8,56],[14.81,0],[14.83,0],[14.84,56],[15.0,55],[15.02,0],[15.08,0],[15.1,55],[15.3,52],[15.32,0],[15.38,0],[15.4,50],[15.7,48],[15.72,0],[15.78,0],[15.8,50],[16.03,52],[16.05,0],[17.85,0],[17.87,45],[18.3,48],[18.31,0],[18.33,0],[18.34,48],[18.45,50],[18.47,0],[18.53,0],[18.55,50],[18.8,52],[18.82,0],[18.88,0],[18.9,52],[19.2,50],[19.22,0],[19.28,0],[19.3,50],[19.6,52],[19.62,0],[19.68,0],[19.7,50],[20.0,50],[20.02,0],[20.08,0],[20.1,48],[20.58,48],[20.6,0],[21.5,0],[21.52,85],[21.6,55],[22.0,55],[22.02,0],[22.06,55],[22.47,52],[22.49,0],[22.87,0],[22.89,45],[23.28,45],[23.3,0],[32.88,0],[32.9,40],[33.5,42],[34.0,45],[34.5,48],[35.0,45],[35.42,48],[35.44,0],[35.9,0],[35.92,28],[36.2,30],[36.22,0],[36.28,0],[36.3,32],[36.68,30],[36.7,40],[36.92,38],[36.94,0],[37.1,0],[37.12,35],[37.4,32],[37.42,0],[39,0]];

// ---------- colours ----------
const C = { red:'#FF0000', purple:'#9400D3', cyan:'#40E0D0', orange:'#F0A800', dgreen:'#006400', lgreen:'#22EE22', navy:'#000080' };

// ---------- helpers ----------
const wrap = document.getElementById('wrap');
const MONO = 'DejaVu Sans Mono';
function linAxis(pos, min, max, ticks, width, size, weight) {
  return { type:'linear', position:pos, min:min, max:max, weight:weight||0,
    afterFit: function(s){ s.width = width; },
    afterBuildTicks: function(s){ s.ticks = ticks.map(function(v){ return {value:v}; }); },
    ticks: { autoSkip:false, padding:6, color:'#333', font:{family:MONO, size:size}, callback:function(v){ return String(v); } },
    grid: { display:false, drawTicks:false }, border: { display:false } };
}
function logAxis(min, max) {
  return { type:'logarithmic', position:'right', min:min, max:max, weight:1,
    afterFit: function(s){ s.width = 47; },
    ticks:{ display:false }, grid:{ display:false, drawTicks:false }, border:{ display:false } };
}
function lineDs(data, color, width, yAxisID, order) {
  return { data:data, borderColor:color, backgroundColor:color, borderWidth:width, pointRadius:0, tension:0, yAxisID:yAxisID, xAxisID:'x', order:order, fill:false, spanGaps:false };
}
function dotDs(data, color, yAxisID, order) {
  return { data:data, showLine:false, pointRadius:2.2, pointStyle:'rect', pointBackgroundColor:color, pointBorderWidth:0, borderColor:color, backgroundColor:color, yAxisID:yAxisID, xAxisID:'x', order:order };
}
function makeDeco(cfg) {
  return {
    id:'deco',
    beforeDatasetsDraw: function(chart) {
      const ctx = chart.ctx, a = chart.chartArea, xs = chart.scales.x, ys = chart.scales[cfg.gridAxis];
      ctx.save();
      ctx.strokeStyle = '#a8a8a8'; ctx.lineWidth = 1; ctx.setLineDash([2,3]);
      ctx.beginPath();
      majorDays.forEach(function(d){ const px = Math.round(xs.getPixelForValue(d)) + 0.5; ctx.moveTo(px, a.top); ctx.lineTo(px, a.bottom); });
      cfg.gridValues.forEach(function(v){ const py = Math.round(ys.getPixelForValue(v)) + 0.5; ctx.moveTo(a.left, py); ctx.lineTo(a.right, py); });
      ctx.stroke();
      ctx.restore();
    },
    afterDraw: function(chart) {
      const ctx = chart.ctx, a = chart.chartArea, xs = chart.scales.x;
      ctx.save();
      ctx.strokeStyle = '#000'; ctx.lineWidth = 2; ctx.setLineDash([]);
      ctx.beginPath();
      for (let d = Math.ceil(xs.min) + 1; d < xs.max; d++) {
        const len = majorDays.indexOf(d) >= 0 ? 14 : 7;
        const px = xs.getPixelForValue(d);
        ctx.moveTo(px, a.top); ctx.lineTo(px, a.top + len);
        ctx.moveTo(px, a.bottom); ctx.lineTo(px, a.bottom - len);
      }
      cfg.yTicks.forEach(function(t){
        const s = chart.scales[t.axis];
        const x0 = t.side === 'left' ? a.left : a.right, dir = t.side === 'left' ? 1 : -1;
        for (let k = 1; k * t.minor < s.max - 1e-9; k++) {
          const v = k * t.minor, r = v / t.major;
          const isMajor = Math.abs(r - Math.round(r)) < 1e-6;
          const py = s.getPixelForValue(v);
          ctx.moveTo(x0, py); ctx.lineTo(x0 + dir * (isMajor ? 27 : 10), py);
        }
      });
      ctx.stroke();
      ctx.lineWidth = 2;
      ctx.strokeRect(a.left, a.top, a.right - a.left, a.bottom - a.top);
      if (cfg.log) {
        const s = chart.scales[cfg.log.axis];
        const x0 = s.left + 1;
        ctx.beginPath();
        ctx.moveTo(x0, s.getPixelForValue(cfg.log.from));
        ctx.lineTo(x0, s.getPixelForValue(cfg.log.to));
        vacDecades.forEach(function(e){ const py = s.getPixelForValue(Math.pow(10, e)); ctx.moveTo(x0, py); ctx.lineTo(x0 + 7, py); });
        ctx.stroke();
        ctx.fillStyle = '#000'; ctx.textAlign = 'left'; ctx.textBaseline = 'alphabetic';
        vacDecades.forEach(function(e){
          const py = s.getPixelForValue(Math.pow(10, e));
          ctx.font = '24px "Liberation Serif"';
          ctx.fillText('10', x0 + 9, py + 9);
          const w = ctx.measureText('10').width;
          ctx.font = '17px "Liberation Serif"';
          ctx.fillText(String(e), x0 + 9 + w, py - 3);
        });
      }
      if (cfg.xLabels) {
        ctx.fillStyle = '#222'; ctx.textBaseline = 'alphabetic';
        majorDays.forEach(function(d, i){
          const px = xs.getPixelForValue(d);
          if (dayLabels[i] === '0h0m0s') {
            const parts = ['0','h','0','m','0','s'];
            const widths = parts.map(function(p, j){ ctx.font = (j % 2 ? '20px ' : '28px ') + '"' + MONO + '"'; return ctx.measureText(p).width; });
            const total = widths.reduce(function(u, w){ return u + w; }, 0);
            let cx = px + 10 - total / 2;
            ctx.textAlign = 'left';
            parts.forEach(function(p, j){
              ctx.font = (j % 2 ? '20px ' : '28px ') + '"' + MONO + '"';
              ctx.fillText(p, cx, a.bottom + (j % 2 ? 30 : 44));
              cx += widths[j];
            });
            ctx.textAlign = 'center';
            ctx.font = '28px "' + MONO + '"';
            ctx.fillText(dateLine2, px, a.bottom + 76);
          } else {
            ctx.textAlign = 'center';
            ctx.font = '28px "' + MONO + '"';
            ctx.fillText(dayLabels[i], px, a.bottom + 33);
          }
        });
      }
      ctx.restore();
    }
  };
}
function makeChart(top, height, padTop, padBottom, datasets, scales, cfg) {
  const c = document.createElement('canvas');
  c.width = 1383; c.height = height;
  c.style.top = top + 'px'; c.style.width = '1383px'; c.style.height = height + 'px';
  wrap.appendChild(c);
  scales.x = { type:'linear', min:-8, max:39, display:false };
  return new Chart(c, {
    type:'line',
    data:{ datasets:datasets },
    options:{ responsive:false, animation:false, devicePixelRatio:1, events:[],
      layout:{ padding:{ top:padTop, bottom:padBottom, left:0, right:0 } },
      plugins:{ legend:{display:false}, tooltip:{enabled:false} },
      scales:scales },
    plugins:[ makeDeco(cfg) ]
  });
}

const M = 30;
// Panel 1: HER
makeChart(75 - M, 233 + 2 * M, M, M, [
  lineDs(herVacuum, C.purple, 2, 'yV', 0),
  lineDs(herLifeBand, C.cyan, 4, 'yR', 1),
  dotDs(herLifeDots, C.cyan, 'yR', 1),
  lineDs(herCurrent, C.red, 3, 'yL', 2)
], {
  yL: linAxis('left', 0, 0.6436, herTicks, 118, 22),
  yR: linAxis('right', 0, 908, lifeTicks, 104, 22, 0),
  yV: logAxis(1.071e-8, 3.09e-5)
}, { gridAxis:'yL', gridValues:herTicks.slice(1),
     yTicks:[{axis:'yL', side:'left', major:0.1, minor:0.02},{axis:'yR', side:'right', major:200, minor:50}],
     log:{axis:'yV', from:1e-8, to:1.73e-5} });

// Panel 2: LER
makeChart(308 - M, 233 + 2 * M, M, M, [
  lineDs(lerVacuum, C.purple, 2, 'yV', 0),
  lineDs(lerLifeBand, C.cyan, 4, 'yR', 1),
  dotDs(lerLifeDots, C.cyan, 'yR', 1),
  lineDs(lerCurrent, C.red, 3, 'yL', 2)
], {
  yL: linAxis('left', 0, 0.738, lerTicks, 118, 22),
  yR: linAxis('right', 0, 201.5, lerLifeTicks, 104, 22, 0),
  yV: logAxis(1.147e-8, 3.2e-5)
}, { gridAxis:'yL', gridValues:lerTicks.slice(1),
     yTicks:[{axis:'yL', side:'left', major:0.1, minor:0.02},{axis:'yR', side:'right', major:50, minor:6.25}],
     log:{axis:'yV', from:1e-8, to:1.62e-5} });

// Panel 3: luminosity
makeChart(541 - M, 234 + 2 * M, M, M, [
  lineDs(intRecorded, C.dgreen, 1.5, 'yR', 0),
  lineDs(intDelivered, C.lgreen, 1.5, 'yR', 1),
  lineDs(lumInst, C.orange, 2, 'yL', 2)
], {
  yL: linAxis('left', 0, 2.2075, lumTicks, 118, 22),
  yR: linAxis('right', 0, 1141, intTicks, 151, 22, 0)
}, { gridAxis:'yL', gridValues:lumTicks.slice(1),
     yTicks:[{axis:'yL', side:'left', major:0.5, minor:0.0625},{axis:'yR', side:'right', major:200, minor:40}] });

// Panel 4: specific luminosity
makeChart(775 - M, 128 + M + 84, M, 84, [
  lineDs(specLumi, C.navy, 1.5, 'yL', 0)
], {
  yL: linAxis('left', 0, 200, specTicks, 118, 20),
  yR: linAxis('right', 0, 200, specTicks, 151, 20, 0)
}, { gridAxis:'yL', gridValues:specTicks.slice(1, 4),
     yTicks:[{axis:'yL', side:'left', major:50, minor:6.25},{axis:'yR', side:'right', major:50, minor:6.25}],
     xLabels:true });

// ---------- overlay labels and annotations ----------
const ov = document.createElement('div');
ov.innerHTML =
 '<div class="t" style="left:148px;top:89px;font-size:33px">HER</div>' +
 '<div class="t" style="left:148px;top:321px;font-size:33px">LER</div>' +
 '<svg width="1383" height="987" style="position:absolute;left:0;top:0">' +
 '<path d="M152 548 Q152 568 167 568 L239 568 Q251 568 251 583 Q251 568 263 568 L333 568 Q348 568 348 548" fill="none" stroke="#5B9BD5" stroke-width="2"/>' +
 '<path d="M388 548 Q388 568 403 568 L456 568 Q468 568 468 583 Q468 568 480 568 L533 568 Q548 568 548 548" fill="none" stroke="#5B9BD5" stroke-width="2"/>' +
 '<line x1="0" y1="602" x2="150" y2="618" stroke="#2E75B6" stroke-width="2.2"/>' +
 '<polygon points="166,620 151,610 149,626" fill="#2E75B6"/>' +
 '<path d="M0 725 C100 770 300 775 412 712" fill="none" stroke="#2E75B6" stroke-width="2.2"/>' +
 '<polygon points="426,704 416,719 408,705" fill="#2E75B6"/>' +
 '<g font-family="Lato, \'Open Sans\', sans-serif" fill="#0070C0">' +
 '<text x="175" y="632" font-size="46" textLength="150" lengthAdjust="spacingAndGlyphs">vacuum</text>' +
 '<text x="156" y="688" font-size="46" textLength="189" lengthAdjust="spacingAndGlyphs">scrubbing</text>' +
 '<text x="363" y="636" font-size="46" textLength="227" lengthAdjust="spacingAndGlyphs">Struggle for</text>' +
 '<text x="388" y="692" font-size="46">1mm-β<tspan font-size="32" dy="9">y</tspan><tspan font-size="40" dy="-27">*</tspan></text>' +
 '</g></svg>';
while (ov.firstChild) wrap.appendChild(ov.firstChild);
</script>
</body></html>
